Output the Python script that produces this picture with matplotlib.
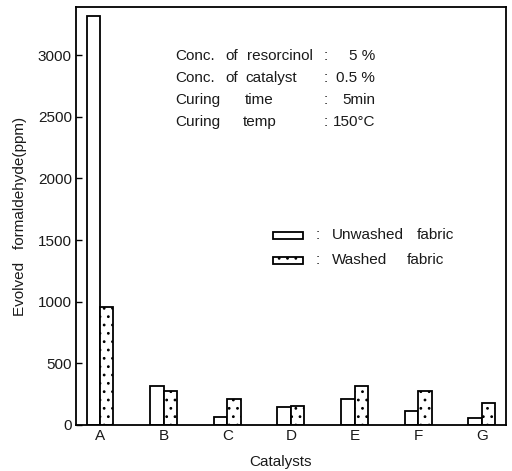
import matplotlib
matplotlib.use("Agg")
import matplotlib.pyplot as plt
import numpy as np
from matplotlib.patches import Rectangle

categories = ["A", "B", "C", "D", "E", "F", "G"]
unwashed = [3320, 320, 62, 150, 210, 112, 56]
washed = [955, 275, 210, 152, 318, 278, 178]
yticks = [0, 500, 1000, 1500, 2000, 2500, 3000]

plt.rcParams['font.family'] = ['Liberation Sans', 'DejaVu Sans']
plt.rcParams['hatch.linewidth'] = 0.8
TXT = '#1a1a1a'

W, H = 512, 471
fig = plt.figure(figsize=(5.12, 4.71), dpi=100)
ax_l, ax_r, ax_t, ax_b = 76, 506, 7, 425
ax = fig.add_axes([ax_l / W, 1 - ax_b / H, (ax_r - ax_l) / W, (ax_b - ax_t) / H])

def px(xp, yp):
    """figure-pixel position -> axes fraction"""
    return (xp - ax_l) / (ax_r - ax_l), (ax_b - yp) / (ax_b - ax_t)

x = np.arange(len(categories))
w = 0.212
ax.bar(x - w / 2, unwashed, width=w, facecolor='white', edgecolor='black', linewidth=1.3)
ax.bar(x + w / 2, washed, width=w, facecolor='white', edgecolor='black', linewidth=1.3, hatch='..')

ax.set_xlim(-0.377, 6.38)
ax.set_ylim(0, 3390)
ax.set_yticks(yticks)
ax.set_yticklabels([str(t) for t in yticks], fontsize=11, color=TXT)
ax.set_xticks(x)
ax.set_xticklabels(categories, fontsize=11, color=TXT)
ax.tick_params(axis='y', direction='in', length=4, width=1, pad=3)
ax.tick_params(axis='x', length=0, pad=3)
for s in ax.spines.values():
    s.set_linewidth(1.3)

ax.set_xlabel("Catalysts", fontsize=11, color=TXT)
ax.xaxis.set_label_coords(*px(281, 462))
ax.xaxis.label.set_va('center')
ax.set_ylabel("Evolved   formaldehyde(ppm)", fontsize=11, color=TXT)
ax.yaxis.set_label_coords(*px(20, 216))
ax.yaxis.label.set_va('center')

# condition annotations
rows_y = [56, 78, 100, 122]
rows = [[(175, "Conc."), (225, "of"), (247, "resorcinol")],
        [(175, "Conc."), (225, "of"), (245, "catalyst")],
        [(175, "Curing"), (245, "time")],
        [(175, "Curing"), (243, "temp")]]
values = ["5 %", "0.5 %", "5min", "150\u00b0C"]
for yy, words, val in zip(rows_y, rows, values):
    for xx, wd in words:
        ax.text(*px(xx, yy), wd, transform=ax.transAxes, fontsize=11, va='center', color=TXT)
    ax.text(*px(324, yy), ":", transform=ax.transAxes, fontsize=11, va='center', color=TXT)
    ax.text(*px(375, yy), val, transform=ax.transAxes, fontsize=11, va='center', ha='right', color=TXT)

# legend
leg = [(235, None, [(332, "Unwashed"), (417, "fabric")]),
       (260, '..', [(332, "Washed"), (407, "fabric")])]
for yy, hatch, words in leg:
    x0, y0 = px(273, yy + 3.5)
    x1, y1 = px(303, yy - 3.5)
    ax.add_patch(Rectangle((x0, y0), x1 - x0, y1 - y0, transform=ax.transAxes,
                           facecolor='white', edgecolor='black', linewidth=1.3, hatch=hatch))
    ax.text(*px(316, yy), ":", transform=ax.transAxes, fontsize=11, va='center', color=TXT)
    for xx, wd in words:
        ax.text(*px(xx, yy), wd, transform=ax.transAxes, fontsize=11, va='center', color=TXT)

fig.savefig("out.png", dpi=100)
